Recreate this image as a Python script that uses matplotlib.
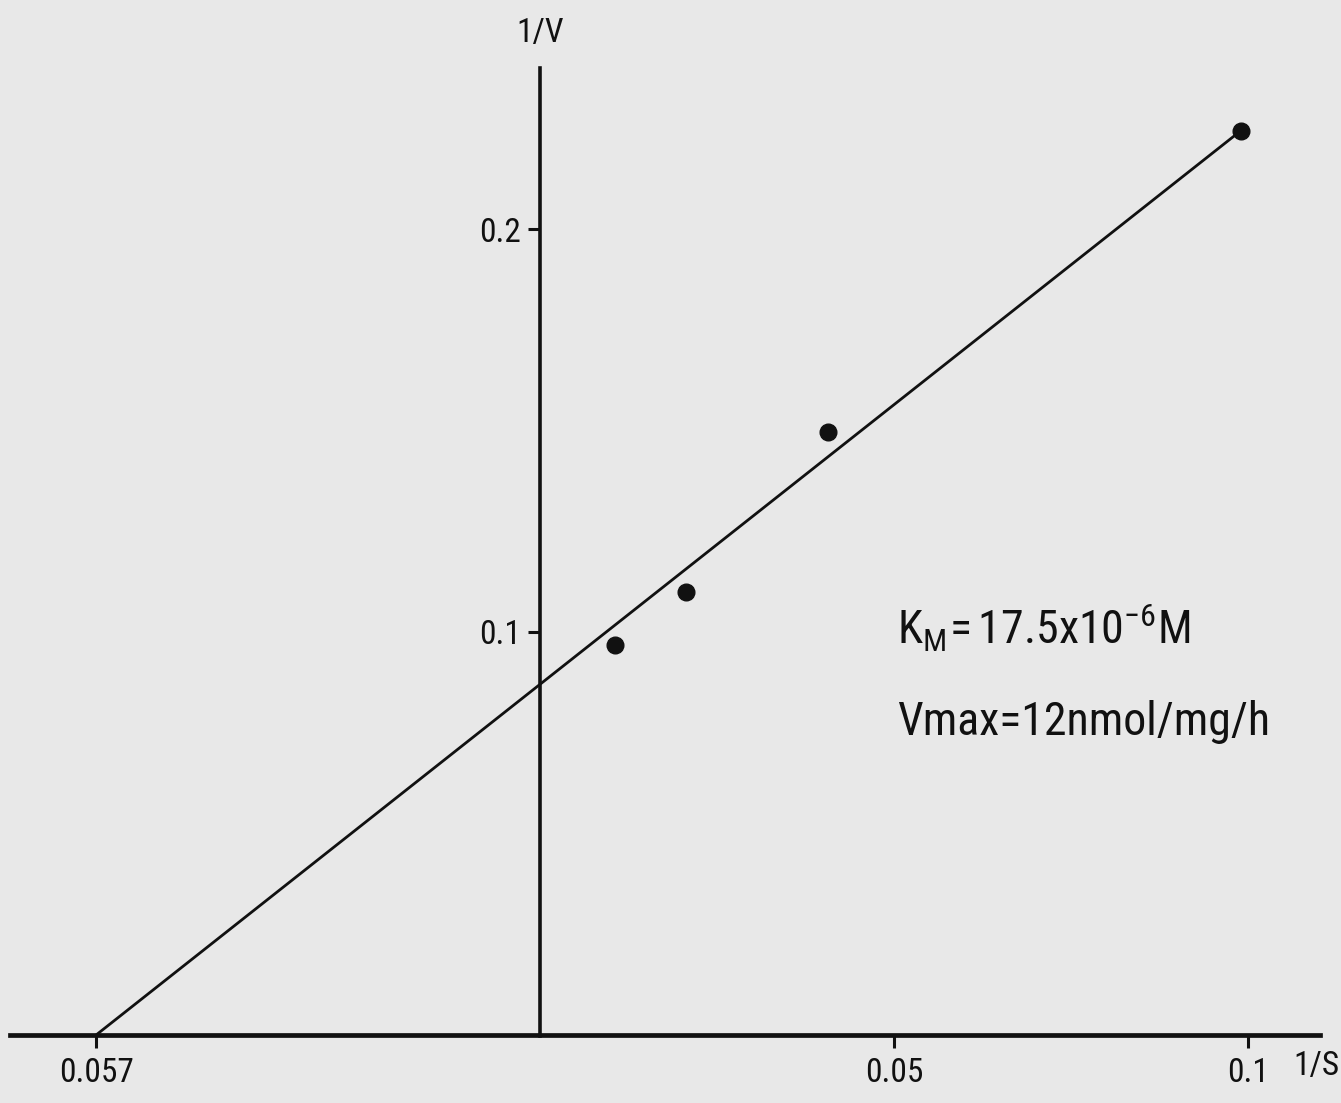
import matplotlib
matplotlib.use("Agg")
import matplotlib.pyplot as plt
from matplotlib import font_manager
from matplotlib.font_manager import FontProperties

# ---- data ----
inv_s = [0.0106, 0.0206, 0.0407, 0.0990]        # 1/S
inv_v = [0.0968, 0.1099, 0.1496, 0.2243]        # 1/V
fit_x = [-0.0627, 0.0982]                       # regression line ends
fit_y = [0.0, 0.2233]
xtick_vals = [-0.0627, 0.05, 0.1]
xtick_labels = ["0.057", "0.05", "0.1"]
ytick_vals = [0.1, 0.2]
ytick_labels = ["0.1", "0.2"]
km_text = r"$\mathregular{K_{M}\!=17.5x10^{-6}M}$"
vmax_text = "Vmax=12nmol/mg/h"

# ---- font: look for a narrow family ----
fam, stretch, narrow = "DejaVu Sans", "normal", False
for cand in ["Liberation Sans Narrow", "Roboto Condensed", "Open Sans Condensed",
             "Noto Sans Condensed", "DejaVu Sans Condensed"]:
    try:
        font_manager.findfont(cand, fallback_to_default=False)
        fam, narrow = cand, True
        break
    except Exception:
        pass
if not narrow:
    for cand in ["Roboto", "Noto Sans", "Open Sans", "DejaVu Sans"]:
        try:
            p = font_manager.findfont(FontProperties(family=cand, stretch="condensed"),
                                      fallback_to_default=False)
            if "ondensed" in p or "arrow" in p:
                fam, stretch, narrow = cand, "condensed", True
                break
        except Exception:
            pass

plt.rcParams["font.family"] = [fam, "DejaVu Sans"]
plt.rcParams["font.stretch"] = stretch
plt.rcParams["mathtext.fontset"] = "custom"
plt.rcParams["mathtext.rm"] = fam
plt.rcParams["mathtext.it"] = fam

big = 33 if narrow else 25
small = 24 if narrow else 19

W, H = 1341, 1103
fig = plt.figure(figsize=(W / 100, H / 100), dpi=100)
bg = "#e8e8e8"
fig.patch.set_facecolor(bg)
ax = fig.add_axes([0, 0, 1, 1])
ax.set_facecolor(bg)

# pixel mapping: x_px = 540 + 7080*x ; y_px = 1035 - 4030*y
kx, x0 = 7080.0, 540.0
ky, y0 = 4030.0, 1035.0
ax.set_xlim((0 - x0) / kx, (W - x0) / kx)
ax.set_ylim((y0 - H) / ky, (y0 - 0) / ky)

ink = "#111111"
for s in ["top", "right"]:
    ax.spines[s].set_visible(False)
ax.spines["left"].set_position(("data", 0))
ax.spines["bottom"].set_position(("data", 0))
ax.spines["left"].set_bounds((y0 - 1036) / ky, (y0 - 68) / ky)
ax.spines["bottom"].set_bounds((10 - x0) / kx, (1320 - x0) / kx)
ax.spines["left"].set_linewidth(2.6)
ax.spines["bottom"].set_linewidth(3.4)
ax.spines["left"].set_color(ink)
ax.spines["bottom"].set_color(ink)

ax.set_xticks(xtick_vals)
ax.set_xticklabels(xtick_labels)
ax.set_yticks(ytick_vals)
ax.set_yticklabels(ytick_labels)
ax.tick_params(axis="both", direction="out", length=9, width=2.2, color=ink,
               labelsize=small, labelcolor=ink)
ax.tick_params(axis="x", pad=7)
ax.tick_params(axis="y", pad=5)

ax.plot(fit_x, fit_y, color=ink, lw=2.0, solid_capstyle="round")
ax.plot(inv_s, inv_v, "o", color=ink, ms=12)

ax.text(0, (y0 - 33) / ky, "1/V", ha="center", va="center", fontsize=small, color=ink)
ax.text((1316 - x0) / kx, (y0 - 1066) / ky, "1/S", ha="center", va="center",
        fontsize=small, color=ink)

ax.text((897 - x0) / kx, (y0 - 645) / ky, km_text, ha="left", va="baseline",
        fontsize=big, color=ink)
ax.text((897 - x0) / kx, (y0 - 735) / ky, vmax_text, ha="left", va="baseline",
        fontsize=big, color=ink)

fig.savefig("out.png", dpi=100, facecolor=bg)
